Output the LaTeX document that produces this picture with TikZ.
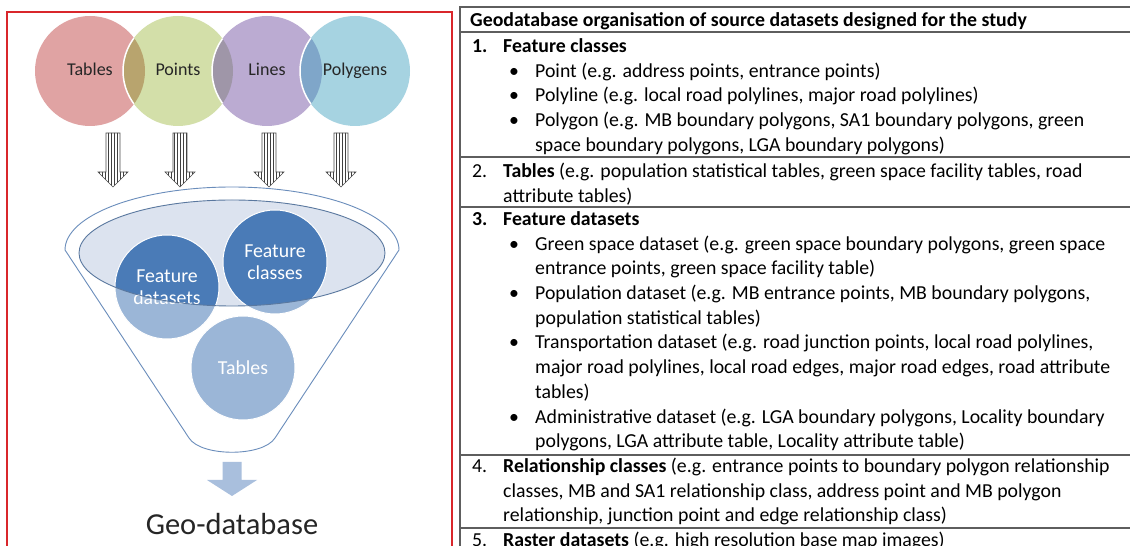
\documentclass[tikz,border=0pt]{standalone}
\usepackage{fontspec}
\setmainfont{Carlito}
\usepackage{tikz}
\usetikzlibrary{patterns,positioning}
\definecolor{tabred}{HTML}{E0A3A3}
\definecolor{ptgreen}{HTML}{D3DFA9}
\definecolor{lnpurple}{HTML}{BBABD2}
\definecolor{pgblue}{HTML}{A6D3E1}
\definecolor{lensa}{HTML}{B8A46E}
\definecolor{lensb}{HTML}{9F96A8}
\definecolor{lensc}{HTML}{7FA6C9}
\definecolor{gdbdark}{HTML}{4A7BB7}
\definecolor{funline}{HTML}{6A8DBB}
\definecolor{ellfill}{HTML}{DCE3EF}
\definecolor{gdbarrow}{HTML}{A9BFDD}
\definecolor{ink}{HTML}{262626}
\definecolor{framered}{HTML}{D9262B}
\definecolor{rulegray}{HTML}{5E5E5E}
\tikzset{
  src/.style={circle,minimum size=110pt,inner sep=0pt,fill=#1,text=ink,text height=12pt,text depth=3pt,
              font=\fontsize{18}{21}\selectfont},
  gdb/.style={circle,minimum size=104pt,inner sep=0pt,draw=white,line width=1pt,fill=gdbdark,
              text=white,align=center,font=\fontsize{19.8}{21.7}\selectfont},
  stripe/.style={draw=black!70,line width=0.6pt,pattern=vertical lines,pattern color=black!75},
  rule/.style={draw=rulegray,line width=1.2pt},
  cell/.style={anchor=north west,inner sep=0pt,align=left,text=black,font=\fontsize{19.8}{24.7}\selectfont},
}
\newcommand{\itemnum}[1]{\makebox[31pt][l]{#1}}
\newcommand{\itembul}{\hspace*{37pt}\makebox[26pt][l]{\textbullet}}
\newcommand{\itemcont}{\hspace*{63pt}}
\newcommand{\rowcont}{\hspace*{31pt}}

\begin{document}
\begin{tikzpicture}[x=1pt,y=1pt]
  \clip (0,0) rectangle (1130,546);
  \fill[white] (0,0) rectangle (1130,546);

  % source layers
  \node[src=tabred]   (tables)   at (90,475)  {Tables};
  \node[src=ptgreen]  (points)   at (178,475) {Points};
  \node[src=lnpurple] (lines)    at (267,475) {Lines};
  \node[src=pgblue]   (polygens) at (355,475) {Polygens};
  \foreach \a/\b/\c in {tables/points/lensa,points/lines/lensb,lines/polygens/lensc}{
    \begin{scope}
      \clip (\a.center) circle[radius=55];
      \fill[\c] (\b.center) circle[radius=55];
      \draw[white,line width=1.5pt] (\b.center) circle[radius=55];
    \end{scope}
  }
  \foreach \ax in {113,180,269,341}{
    \draw[stripe] (\ax-7,413) -- (\ax+7,413) -- (\ax+7,374) -- (\ax+15,374) -- (\ax,359)
      -- (\ax-15,374) -- (\ax-7,374) -- cycle;
  }

  % funnel
  \fill[white] (65,296) arc[start angle=180,end angle=0,x radius=167,y radius=63]
    -- (275,108) .. controls (263,89) and (201,89) .. (189,108) -- cycle;
  \fill[ellfill] (232,293) ellipse[x radius=153,y radius=53];
  \node[gdb] (fds) at (167,259) {Feature\\datasets};
  \node[gdb] (fcl) at (275,284) {Feature\\classes};
  \node[gdb] (ftb) at (243,178) {Tables};
  \begin{scope}
    \clip (100,110) rectangle (350,270);
    \fill[white,fill opacity=0.45,even odd rule] (90,100) rectangle (360,320)
      (232,293) ellipse[x radius=153,y radius=53];
  \end{scope}
  \draw[funline,line width=0.9pt] (65,296) arc[start angle=180,end angle=0,x radius=167,y radius=63]
    -- (275,108) .. controls (263,89) and (201,89) .. (189,108) -- cycle;
  \draw[funline!85!black,line width=0.9pt] (232,293) ellipse[x radius=153,y radius=53];

  \fill[gdbarrow] (222.5,84) -- (241.5,84) -- (241.5,66) -- (257,66) -- (232,50) -- (207,66) -- (222.5,66) -- cycle;
  \node[anchor=base,text=ink,font=\fontsize{30.5}{36}\selectfont] (geodb) at (232,11) {Geo-database};

  \draw[framered,line width=2pt] (7,534) rectangle (452,-20);

  % table of datasets
  \draw[rule] (1140,539) -- (460,539) -- (460,-10);
  \foreach \ry in {514,389,339,91,18}{
    \draw[rule] (460,\ry) -- (1140,\ry);
  }
  \node[cell] (head) at (470,536.8) {\strut\textbf{Geodatabase organisation of source datasets designed for the study}};
  \node[cell] (row1) at (472,511) {\strut\textbf{\itemnum{1.}Feature classes}\\
    \itembul Point (e.g. address points, entrance points)\\
    \itembul Polyline (e.g. local road polylines, major road polylines)\\
    \itembul Polygon (e.g. MB boundary polygons, SA1 boundary polygons, green\\
    \itemcont space boundary polygons, LGA boundary polygons)};
  \node[cell] (row2) at (472,386) {\strut\itemnum{2.}\textbf{Tables} (e.g. population statistical tables, green space facility tables, road\\
    \rowcont attribute tables)};
  \node[cell] (row3) at (472,338) {\strut\textbf{\itemnum{3.}Feature datasets}\\
    \itembul Green space dataset (e.g. green space boundary polygons, green space\\
    \itemcont entrance points, green space facility table)\\
    \itembul Population dataset (e.g. MB entrance points, MB boundary polygons,\\
    \itemcont population statistical  tables)\\
    \itembul Transportation dataset (e.g. road junction points, local road polylines,\\
    \itemcont major road polylines, local road edges, major road edges, road attribute\\
    \itemcont tables)\\
    \itembul Administrative dataset (e.g. LGA boundary polygons, Locality boundary\\
    \itemcont polygons, LGA attribute table, Locality attribute table)};
  \node[cell] (row4) at (472,91) {\strut\itemnum{4.}\textbf{Relationship classes} (e.g. entrance points to boundary polygon relationship\\
    \rowcont classes, MB and SA1 relationship class, address point and MB polygon\\
    \rowcont relationship, junction point and edge relationship class)};
  \node[cell] (row5) at (472,17) {\strut\itemnum{5.}\textbf{Raster datasets} (e.g. high resolution base map images)};
\end{tikzpicture}
\end{document}
